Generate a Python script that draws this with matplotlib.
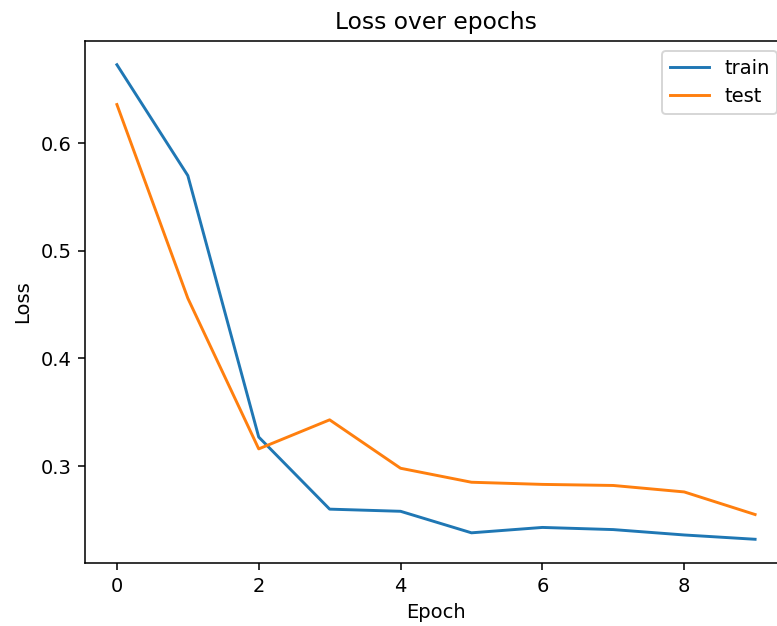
import matplotlib
matplotlib.use("Agg")
import matplotlib.pyplot as plt

epochs = list(range(10))
train_loss = [0.673, 0.570, 0.327, 0.260, 0.258, 0.238, 0.243, 0.241, 0.236, 0.232]
test_loss = [0.636, 0.456, 0.316, 0.343, 0.298, 0.285, 0.283, 0.282, 0.276, 0.255]

DPI = 140
fig = plt.figure(figsize=(777 / DPI, 626 / DPI), dpi=DPI)
ax = fig.add_axes([85 / 777, 63 / 626, 702 / 777, 522 / 626])
ax.plot(epochs, train_loss, label="train")
ax.plot(epochs, test_loss, label="test")
ax.set_title("Loss over epochs")
ax.set_xlabel("Epoch")
ax.set_ylabel("Loss")
ax.set_xticks([0, 2, 4, 6, 8])
ax.set_yticks([0.3, 0.4, 0.5, 0.6])
ax.legend(loc="upper right")
fig.savefig("out.png", dpi=DPI)
